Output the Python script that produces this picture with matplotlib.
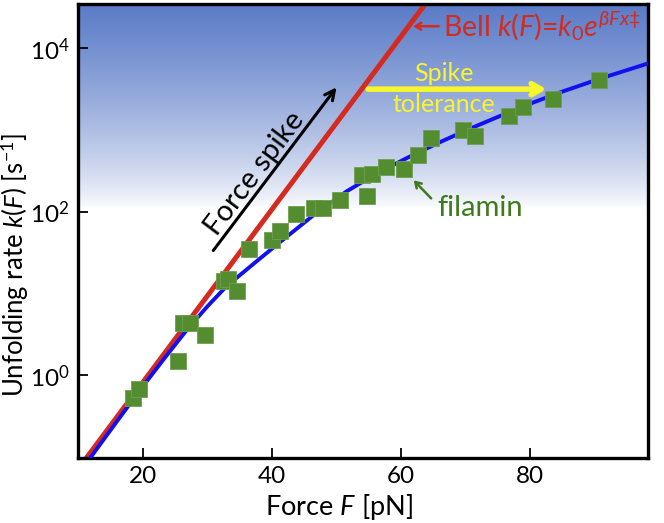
import numpy as np
import matplotlib
matplotlib.use("Agg")
import matplotlib.pyplot as plt
from matplotlib.ticker import FixedLocator, LogFormatterSciNotation, NullLocator

plt.rcParams['font.family'] = ['Lato', 'DejaVu Sans']
plt.rcParams['mathtext.fontset'] = 'custom'
plt.rcParams['mathtext.rm'] = 'Lato'
plt.rcParams['mathtext.it'] = 'Lato:italic'

# filamin unfolding data (force in pN, log10 of rate in 1/s)
force = [18.5, 19.5, 25.5, 26.2, 27.4, 29.7, 32.6, 33.3, 34.7, 36.5, 40.0, 41.3,
         43.7, 46.5, 48.0, 50.6, 54.0, 55.5, 54.8, 57.7, 60.5, 62.6, 64.6, 69.7,
         71.5, 76.7, 78.9, 83.5, 90.7]
log_rate = [-0.28, -0.17, 0.18, 0.64, 0.64, 0.49, 1.15, 1.18, 1.03, 1.54, 1.65, 1.76,
            1.97, 2.05, 2.05, 2.15, 2.45, 2.46, 2.19, 2.55, 2.52, 2.70, 2.90, 3.00,
            2.93, 3.17, 3.28, 3.38, 3.61]

# fitted curve (blue)
fit_force = [11.8, 15.5, 19.6, 23.5, 26.8, 30.0, 33.0, 38.2, 41.3, 46.5, 51.6, 56.5,
             62.0, 66.0, 70.2, 75.0, 80.6, 85.0, 90.9, 98.5]
fit_log_rate = [-1.02, -0.62, -0.18, 0.22, 0.55, 0.84, 1.09, 1.43, 1.63, 1.96, 2.25, 2.48,
                2.70, 2.85, 3.00, 3.16, 3.34, 3.47, 3.63, 3.82]

# Bell model k(F) = k0 exp(beta F x)
bell_log_k0 = -2.206
bell_slope = 0.1058   # log10 units per pN
bell_force = [10.0, 66.0]

fig = plt.figure(figsize=(6.64, 5.23), dpi=100)
ax = fig.add_axes([0.1175, 0.124, 0.8585, 0.8685])

# blue-to-white background
t = np.linspace(0, 1, 300)[:, None]
w = np.clip((t - 0.55) / 0.45, 0, 1) ** 0.75
top = np.array([0.35, 0.48, 0.78])
img = (1 - w[..., None]) * 1.0 + w[..., None] * top
ax.imshow(img, extent=[0, 1, 0, 1], origin='lower', aspect='auto',
          transform=ax.transAxes, zorder=0)

bf = np.array(bell_force)
ax.plot(bf, 10 ** (bell_log_k0 + bell_slope * bf), color='#d42a1f', lw=3.6, zorder=2,
        solid_capstyle='butt')
ax.plot(fit_force, 10 ** np.array(fit_log_rate), color='#1010f0', lw=2.8, zorder=3)
ax.plot(force, 10 ** np.array(log_rate), 's', ms=11.5, color='#548c30',
        mec='#6f9e52', mew=0.6, zorder=4)

ax.set_yscale('log')
ax.set_xlim(10, 98.3)
ax.set_ylim(10 ** -1.013, 10 ** 4.543)
ax.xaxis.set_major_locator(FixedLocator([20, 40, 60, 80]))
ax.yaxis.set_major_locator(FixedLocator([1, 100, 1e4]))
ax.yaxis.set_major_formatter(LogFormatterSciNotation())
ax.yaxis.set_minor_locator(NullLocator())
ax.tick_params(direction='in', length=7, width=1.3, labelsize=17.5, pad=6)
for s in ax.spines.values():
    s.set_linewidth(2.4)

ax.set_xlabel('Force $F$ [pN]', fontsize=19.5)
ax.xaxis.set_label_coords(0.458, -0.075)
ax.set_ylabel('Unfolding rate $k(F)$ [s$^{-1}$]', fontsize=18.5)
ax.yaxis.set_label_coords(-0.082, 0.425)

# annotations
ax.annotate('', xy=(50.3, 10 ** 3.55), xytext=(30.7, 10 ** 1.50),
            arrowprops=dict(arrowstyle='->,head_length=0.7,head_width=0.35', color='black', lw=2.2),
            zorder=5)
ax.text(37.4, 10 ** 2.47, 'Force spike', rotation=53, fontsize=21,
        ha='center', va='center', rotation_mode='anchor', zorder=5)

ax.annotate('', xy=(83.0, 10 ** 3.50), xytext=(54.5, 10 ** 3.50),
            arrowprops=dict(arrowstyle='->,head_length=0.7,head_width=0.4', color='#f7f52c', lw=4),
            zorder=5)
ax.text(66.6, 10 ** 3.69, 'Spike', color='#f7f52c', fontsize=18, ha='center', va='center', zorder=5)
ax.text(66.6, 10 ** 3.31, 'tolerance', color='#f7f52c', fontsize=18, ha='center', va='center', zorder=5)

ax.annotate('', xy=(61.5, 10 ** 4.27), xytext=(66.3, 10 ** 4.27),
            arrowprops=dict(arrowstyle='->,head_length=0.4,head_width=0.25', color='#d42a1f', lw=1.8),
            zorder=5)
ax.text(66.6, 10 ** 4.27, r'Bell $k(F)$=$k_0e^{\beta Fx‡}$', color='#d42a1f', fontsize=20.5,
        ha='left', va='center', zorder=5)

ax.annotate('', xy=(61.7, 10 ** 2.41), xytext=(65.0, 10 ** 2.14),
            arrowprops=dict(arrowstyle='->,head_length=0.4,head_width=0.25', color='#3f7a1f', lw=1.8),
            zorder=5)
ax.text(72.3, 10 ** 2.05, 'filamin', color='#3f7a1f', fontsize=21, ha='center', va='center', zorder=5)

fig.savefig('out.png', dpi=100)
